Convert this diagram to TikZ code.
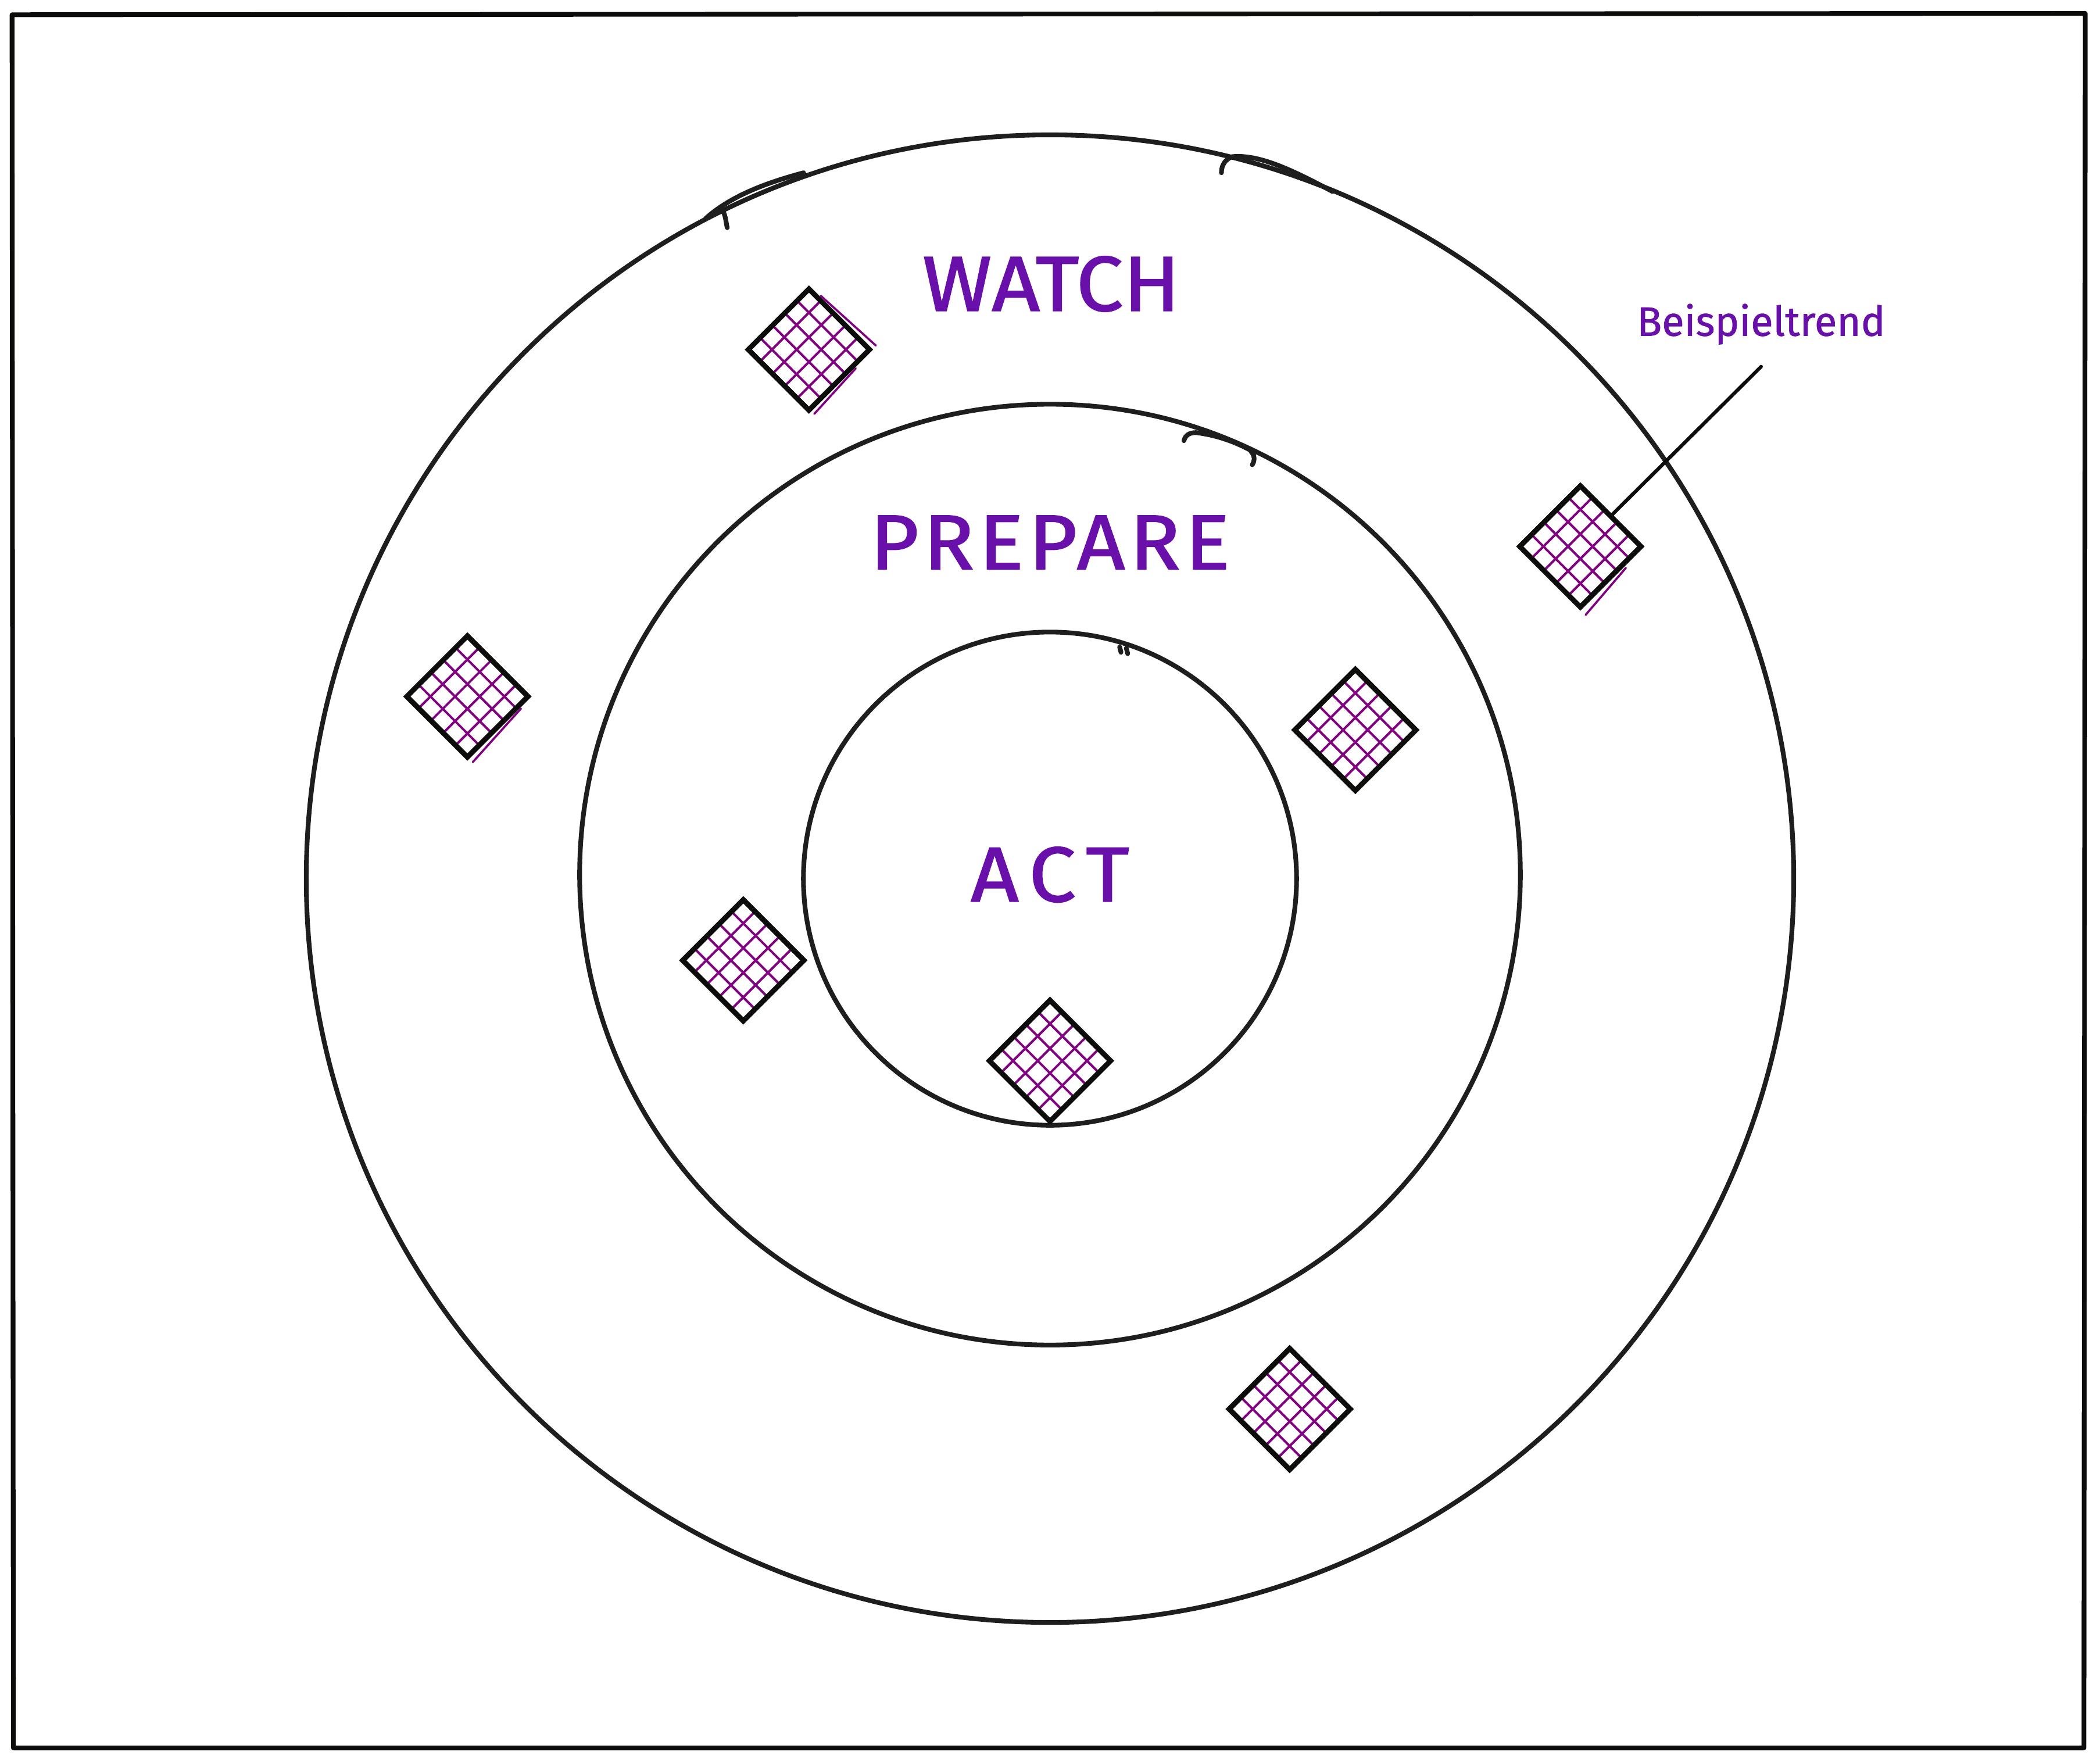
\documentclass[tikz,border=0pt]{standalone}
\usepackage{fontspec}
\newfontfamily\handfont[FakeStretch=1.08, FakeBold=1.5]{Fira Sans}
\newfontfamily\notefont[FakeBold=1]{Fira Sans}
\usetikzlibrary{shapes.geometric}
\definecolor{InkBlack}{RGB}{30,30,30}
\definecolor{EdgeBlack}{RGB}{12,12,10}
\definecolor{ZonePurple}{RGB}{106,16,170}
\definecolor{HatchPurple}{RGB}{128,0,128}

\tikzset{
  ring/.style={circle, draw=InkBlack, line width=1pt, inner sep=0pt},
  sketch/.style={draw=InkBlack, line width=1pt, line cap=round},
  zone/.style={text=ZonePurple, font=\handfont\fontsize{16.5}{18}\selectfont},
  hatch/.style={draw=HatchPurple, line width=0.5pt},
  stray/.style={draw=HatchPurple, line width=0.45pt, line cap=round},
  trend/.style={diamond, aspect=1, draw=EdgeBlack, line width=1.1pt, inner sep=0pt,
    minimum width=0.92cm, minimum height=0.92cm,
    path picture={
      \foreach \k in {-1.5,-0.5,0.5,1.5}{
        \draw[hatch] ([shift={(\k*0.092cm,\k*0.092cm)}]path picture bounding box.center)
          ++(-0.5cm,0.5cm) -- ++(1cm,-1cm);
        \draw[hatch] ([shift={(\k*0.092cm,-\k*0.092cm)}]path picture bounding box.center)
          ++(-0.5cm,-0.5cm) -- ++(1cm,1cm);
      }}},
}

\begin{document}
\begin{tikzpicture}[x=0.01cm, y=-0.01cm]
  \useasboundingbox (0,0) rectangle (1568,1313);
  \draw[line width=1pt, EdgeBlack, line join=round]
    (9,11) -- (1557,10) -- (1556,1305) -- (10,1305) -- cycle;

  \node[ring, minimum size=11.1cm] (watchring) at (784,656) {};
  \node[ring, minimum size=7.02cm] (prepring) at (784,653) {};
  \node[ring, minimum size=3.68cm] (actring) at (784,656) {};

  \draw[sketch] (527,163) .. controls (545,147) and (570,137) .. (600,129);
  \draw[sketch] (540,158) .. controls (542,162) and (542,166) .. (543,170);
  \draw[sketch] (912,129) .. controls (912,123) and (915,119) .. (920,117)
    .. controls (940,115) and (965,127) .. (995,143);
  \draw[sketch] (884,329) .. controls (885,325) and (888,323) .. (893,323)
    .. controls (910,325) and (925,331) .. (937,338);
  \draw[sketch] (934,337) .. controls (937,340) and (937,344) .. (935,347);
  \draw[sketch] (836,483) -- (837,487);
  \draw[sketch] (841,484) -- (842,488);

  \node[zone] (watch) at (785,212) {WATCH};
  \node[zone] (prepare) at (784,405) {\addfontfeature{LetterSpace=6}PREPARE};
  \node[zone] (act) at (784,653) {\addfontfeature{LetterSpace=14}ACT};

  \node[trend] (t1) at (604,261) {};
  \node[trend] (t2) at (349,520) {};
  \node[trend] (t3) at (1180,408) {};
  \node[trend] (t4) at (1012,545) {};
  \node[trend] (t5) at (555,717) {};
  \node[trend] (t6) at (784,792) {};
  \node[trend] (t7) at (963,1052) {};

  \draw[stray] (613,221) -- (654,258);
  \draw[stray] (639,275) -- (608,309);
  \draw[stray] (389,529) -- (353,569);
  \draw[stray] (1214,424) -- (1184,459);

  \node[text=ZonePurple, font=\notefont\fontsize{8.7}{10}\selectfont, inner sep=4.5pt]
    (trendlabel) at (1315,242) {Beispieltrend};
  \draw[line width=0.75pt, EdgeBlack, line cap=round] (trendlabel.south) -- (t3.north east);
\end{tikzpicture}
\end{document}
